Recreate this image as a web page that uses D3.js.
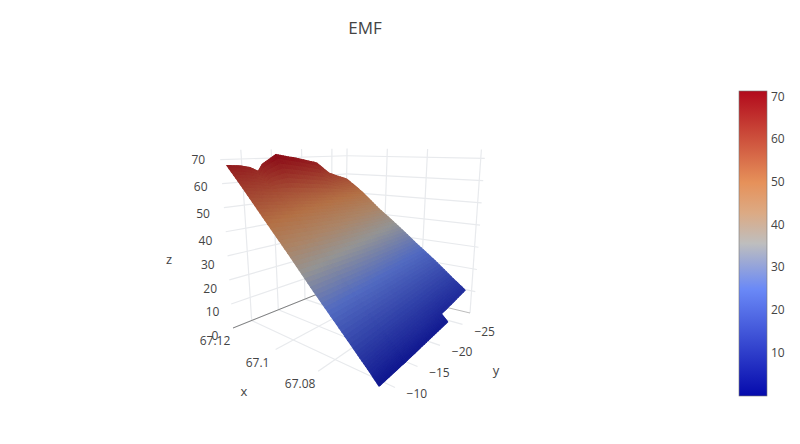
<!DOCTYPE html>
<html>
<head>
<meta charset="utf-8">
<script src="https://cdnjs.cloudflare.com/ajax/libs/d3/7.8.5/d3.min.js"></script>
<style>
  html, body { margin: 0; background: #fff; }
  text { font-family: 'Open Sans', sans-serif; fill: #444; }
</style>
</head>
<body>
<div id="graf"></div>
<script>
// surface values
xs = [67.12, 67.112, 67.1033, 67.0933, 67.0833, 67.0733, 67.0633, 67.0567, 67.0533]
ys = [-7.55, -9.65, -11.33, -12.7, -13.43, -15.74, -19.1, -22.46, -24.56, -27.5]
zs = [
  [67.4, 67, 66, 64.2, 67.3, 71.5, 69.5, 66.8, 61, 57.2],
  [60, 59, 58.2, 57.6, 57.2, 56.1, 54.5, 53, 52, 50.6],
  [51.6, 50.7, 49.9, 49.3, 49, 47.9, 46.4, 44.9, 43.9, 42.6],
  [42.1, 41.4, 40.8, 40.3, 40, 39.2, 38, 36.8, 36, 35],
  [32.2, 31.7, 31.3, 31, 30.8, 30.2, 29.4, 28.6, 28.1, 27.4],
  [22.9, 22.7, 22.5, 22.3, 22.3, 22, 21.6, 21.3, 21, 20.7],
  [13.6, 13.6, 13.6, 13.6, 13.7, 13.7, 13.7, 13.8, 13.8, 13.8],
  [7.4, 7.6, 7.8, 8, 8.1, 8.3, 8.7, 8, 8.6, 9.7],
  [4, 4.1, 4.2, 4.3, 4.3, 4.5, 4.9, 5.3, null, null]
]

// axis ticks
xTicks = [67.12, 67.1, 67.08]
yTicks = [-10, -15, -20, -25]
zTicks = [0, 10, 20, 30, 40, 50, 60, 70]
barTicks = [10, 20, 30, 40, 50, 60, 70]

// colour scale stops
stops = [0, 0.35, 0.5, 0.6, 0.7, 1]
stopColors = ['rgb(5,10,172)', 'rgb(106,137,247)', 'rgb(190,190,190)', 'rgb(220,170,132)', 'rgb(230,145,90)', 'rgb(178,10,28)']

xRange = [67.12, 67.0533]
yRange = [-6.5, -27.5]
zRange = [0, 71.5]

// screen position of the box corners (floor, then top)
corners = {
  L: [233, 328], B: [345, 283], R: [470, 313], F: [375, 400],
  L2: [220, 156], B2: [347, 153], R2: [481, 155], F2: [362, 228]
}

svg = d3.select('#graf').append('svg')
  .attr('width', 800)
  .attr('height', 444)
  .style('display', 'block')

u = d3.scaleLinear().domain(xRange).range([0, 1])
t = d3.scaleLinear().domain(yRange).range([0, 1])
w = d3.scaleLinear().domain(zRange).range([0, 1])
color = d3.scaleLinear()
  .domain(stops.map(d => zRange[0] + d * (zRange[1] - zRange[0])))
  .range(stopColors)
  .interpolate(d3.interpolateRgb)
  .clamp(true)

function mix(a, b, k) { return [a[0] + (b[0] - a[0]) * k, a[1] + (b[1] - a[1]) * k] }

// box coordinates to screen
function project(x, y, z) {
  c = corners
  a = mix(mix(c.L, c.B, t(y)), mix(c.F, c.R, t(y)), u(x))
  b = mix(mix(c.L2, c.B2, t(y)), mix(c.F2, c.R2, t(y)), u(x))
  return mix(a, b, w(z))
}

line = d3.line()
gridColor = '#e8eaed'

function gridLine(p, q, col, width) {
  svg.append('path')
    .attr('d', line([p, q]))
    .attr('fill', 'none')
    .attr('stroke', col || gridColor)
    .attr('stroke-width', width || 1.2)
}

xMin = xRange[1]; xMax = xRange[0]
yMin = yRange[1]; yMax = yRange[0]
zOver = 74
xOver = u.invert(1.03)
yOver = t.invert(1.03)

// back walls
zTicks.slice(1).forEach(z => {
  gridLine(project(xMax, yMax, z), project(xMax, yMin, z))
  gridLine(project(xMax, yMin, z), project(xOver, yMin, z))
})
yTicks.forEach(y => gridLine(project(xMax, y, 0), project(xMax, y, zOver)))
xTicks.forEach(x => gridLine(project(x, yMin, 0), project(x, yMin, zOver)))
gridLine(project(xMin, yMin, 0), project(xMin, yMin, zOver))

// floor
xTicks.forEach(x => gridLine(project(x, yMax, 0), project(x, yOver, 0)))
yTicks.forEach(y => gridLine(project(xMax, y, 0), project(xOver, y, 0)))
gridLine(project(xMax, yMax, 0), project(xMax, yMin, 0), '#666', 0.8)
gridLine(project(xMax, yMin, 0), project(xMin, yMin, 0), '#aaa', 0.8)

// surface, each grid cell shaded in small pieces
surface = svg.append('g')
steps = 8
shade = 0.78
for (i = 0; i < xs.length - 1; i++) {
  for (j = 0; j < ys.length - 1; j++) {
    z00 = zs[i][j]; z01 = zs[i][j + 1]; z10 = zs[i + 1][j]; z11 = zs[i + 1][j + 1]
    if (z00 == null || z01 == null || z10 == null || z11 == null) continue
    for (a1 = 0; a1 < steps; a1++) {
      for (b1 = 0; b1 < steps; b1++) {
        pieces = [[a1, b1], [a1, b1 + 1], [a1 + 1, b1 + 1], [a1 + 1, b1]].map(e => {
          f = e[0] / steps; g = e[1] / steps
          return [
            xs[i] + (xs[i + 1] - xs[i]) * f,
            ys[j] + (ys[j + 1] - ys[j]) * g,
            (z00 * (1 - g) + z01 * g) * (1 - f) + (z10 * (1 - g) + z11 * g) * f
          ]
        })
        zm = d3.mean(pieces, d => d[2])
        col = d3.rgb(color(zm))
        col = d3.rgb(col.r * shade, col.g * shade, col.b * shade).formatRgb()
        surface.append('path')
          .attr('d', line(pieces.map(d => project(d[0], d[1], d[2]))) + 'Z')
          .attr('fill', col)
          .attr('stroke', col)
          .attr('stroke-width', 1.2)
      }
    }
  }
}

function label(px, py, txt, size, anchor) {
  svg.append('text')
    .attr('x', px)
    .attr('y', py)
    .attr('text-anchor', anchor || 'middle')
    .attr('dominant-baseline', 'middle')
    .attr('font-size', size)
    .text(txt)
}

// tick labels
zOffX = d3.scaleLinear().domain([0, 70]).range([-18, -22])
zOffY = d3.scaleLinear().domain([0, 40, 70]).range([9, 10, 1])
zTicks.forEach(z => {
  p = project(xMax, yMax, z)
  label(p[0] + zOffX(z), p[1] + zOffY(z), z, 12)
})
xTicks.forEach(x => {
  p = project(x, yMax, 0)
  label(p[0] - 18, p[1] + 14, x, 12)
})
yTicks.forEach(y => {
  p = project(xMin, y, 0)
  label(p[0] + 26, p[1] + 9, '\u2212' + Math.abs(y), 12)
})

label(169, 261, 'z', 13)
label(244, 393, 'x', 13)
label(496, 372, 'y', 13)
label(365, 29, 'EMF', 17)

// colour bar
barY = d3.scaleLinear().domain(zRange).range([396, 91])
defs = svg.append('defs')
grad = defs.append('linearGradient')
  .attr('id', 'bar')
  .attr('x1', 0).attr('y1', 1)
  .attr('x2', 0).attr('y2', 0)
stops.forEach((d, i) => {
  grad.append('stop')
    .attr('offset', d)
    .attr('stop-color', stopColors[i])
})
svg.append('rect')
  .attr('x', 739)
  .attr('y', barY(zRange[1]))
  .attr('width', 28)
  .attr('height', barY(zRange[0]) - barY(zRange[1]))
  .attr('fill', 'url(#bar)')
  .attr('stroke', '#777')
  .attr('stroke-width', 0.6)
barTicks.forEach(d => label(771, barY(d), d, 12, 'start'))
</script>
</body>
</html>
